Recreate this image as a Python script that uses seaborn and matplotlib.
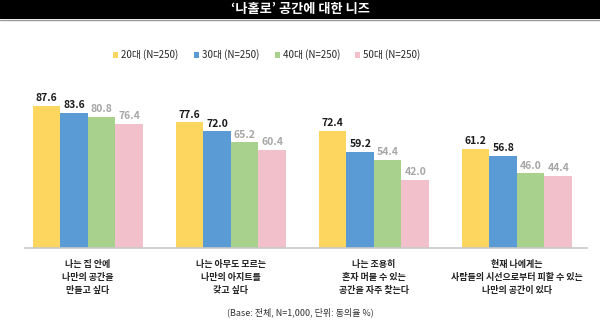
import matplotlib
matplotlib.use("Agg")
import matplotlib.pyplot as plt
import seaborn as sns
import pandas as pd
from matplotlib.patches import Rectangle
from matplotlib.lines import Line2D

categories = ["나는 집 안에\n나만의 공간을\n만들고 싶다",
              "나는 아무도 모르는\n나만의 아지트를\n갖고 싶다",
              "나는 조용히\n혼자 머물 수 있는\n공간을 자주 찾는다",
              "현재 나에게는\n사람들의 시선으로부터 피할 수 있는\n나만의 공간이 있다"]
series = ["20대 (N=250)", "30대 (N=250)", "40대 (N=250)", "50대 (N=250)"]
v20 = [87.6, 77.6, 72.4, 61.2]
v30 = [83.6, 72.0, 59.2, 56.8]
v40 = [80.8, 65.2, 54.4, 46.0]
v50 = [76.4, 60.4, 42.0, 44.4]
colors = ["#FDD660", "#5B9BD5", "#A9D18E", "#F2C0CB"]
label_colors = ["#1a1a1a", "#1a1a1a", "#a6a6a6", "#a6a6a6"]
title = "‘나홀로’ 공간에 대한 니즈"
footnote = "(Base: 전체, N=1,000, 단위: 동의율 %)"

rows = []
for s, vals in zip(series, [v20, v30, v40, v50]):
    for c, v in zip(categories, vals):
        rows.append({"cat": c, "series": s, "value": v})
df = pd.DataFrame(rows)

sns.set_theme(style="white")
plt.rcParams['font.family'] = ['Noto Sans CJK KR', 'DejaVu Sans']

W, H = 600, 334
fig = plt.figure(figsize=(6.0, 3.34), dpi=100)
ax = fig.add_axes([25 / W, 1 - 248 / H, (587 - 25) / W, (248 - 86) / H])

sns.barplot(data=df, x="cat", y="value", hue="series", palette=colors,
            width=0.77, saturation=1, ax=ax, legend=False, edgecolor="none")
ax.set_ylim(0, 100)
ax.set_xlim(-0.44, 3.49)
ax.set_xlabel("")
ax.set_ylabel("")
ax.set_yticks([])
ax.set_xticks([])
for sp in ["top", "right", "left"]:
    ax.spines[sp].set_visible(False)
ax.spines["bottom"].set_color("#c8c8c8")
ax.spines["bottom"].set_linewidth(1.2)

for cont, lc in zip(ax.containers, label_colors):
    ax.bar_label(cont, labels=[f"{b.get_height():.1f}" for b in cont],
                 padding=2, fontsize=7.5, fontweight="bold", color=lc)

for i, c in enumerate(categories):
    ax.text(i + 0.0, -7.5, c, ha="center", va="top", fontsize=6.5,
            fontweight="bold", color="#222222", linespacing=1.55,
            transform=ax.transData)

# title bar
fig.patches.append(Rectangle((0, 1 - 19 / H), 1, 19 / H, transform=fig.transFigure,
                             facecolor="black", edgecolor="none", zorder=0))
fig.lines.append(Line2D([0, 1], [1 - 20 / H, 1 - 20 / H], transform=fig.transFigure,
                        color="#9a9a9a", linewidth=1))
fig.text(0.5, 1 - 9.5 / H, title, ha="center", va="center", color="white",
         fontsize=9.5, fontweight="bold")

handles = [Rectangle((0, 0), 1, 1, facecolor=c, edgecolor="none") for c in colors]
fig.legend(handles, series, loc="center", bbox_to_anchor=(0.445, 1 - 55 / H),
           ncol=4, frameon=False, fontsize=7, handlelength=0.5, handleheight=0.5,
           handletextpad=0.3, columnspacing=1.6)

fig.text(0.5, 1 - 312 / H, footnote, ha="center", va="center", fontsize=6.5,
         color="#333333")

fig.savefig("out.png", dpi=100)
